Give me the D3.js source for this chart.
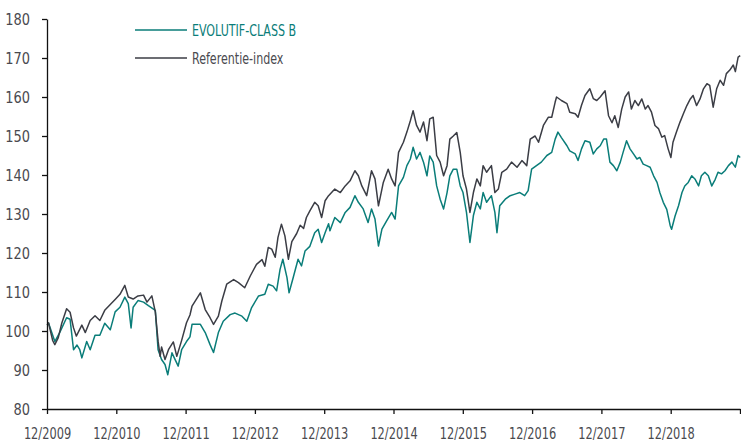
<!DOCTYPE html>
<html>
<head>
<meta charset="utf-8">
<script src="https://cdn.jsdelivr.net/npm/d3@7"></script>
<style>
  body { margin: 0; background: #fff; }
  svg text { font-family: "Liberation Sans Narrow", "DejaVu Sans Condensed", sans-serif; font-stretch: condensed; }
</style>
</head>
<body>
<svg width="741" height="444"></svg>
<script>
// dates as decimal years, values indexed to 100
var fund = [
  [2009.92,101.5],[2009.94,102],[2010.03,97.3],[2010.10,99.6],[2010.20,103.4],[2010.25,103],[2010.30,95.2],
  [2010.35,96.4],[2010.39,95.2],[2010.42,93.1],[2010.49,97.3],[2010.54,95.2],[2010.61,98.9],[2010.68,98.9],
  [2010.75,102],[2010.83,100.3],[2010.90,104.9],[2010.97,106.1],[2011.04,108.7],[2011.09,107],[2011.13,100.8],
  [2011.16,106.1],[2011.23,107.8],[2011.31,107.4],[2011.38,106.5],[2011.48,105.3],[2011.52,95.2],[2011.57,92.7],
  [2011.62,91.4],[2011.66,88.8],[2011.72,94.4],[2011.81,91],[2011.86,95.2],[2011.93,97.3],[2011.98,98.5],
  [2012.01,101.7],[2012.13,101.7],[2012.20,99.6],[2012.27,96.5],[2012.32,94.5],[2012.39,99.6],[2012.46,102.5],
  [2012.56,104.2],[2012.63,104.6],[2012.73,103.8],[2012.80,102.5],[2012.87,106],[2012.97,109],[2013.06,109.4],
  [2013.11,112],[2013.18,111.5],[2013.23,110.3],[2013.28,115.8],[2013.32,118.4],[2013.38,113.7],[2013.41,109.8],
  [2013.47,113.7],[2013.54,118.4],[2013.59,116.7],[2013.64,120.5],[2013.71,121.7],[2013.78,125.2],[2013.83,126.1],
  [2013.88,122.7],[2013.93,125.2],[2013.98,127.5],[2014.00,125.7],[2014.07,129.1],[2014.15,127.8],[2014.22,130.4],
  [2014.29,131.7],[2014.36,134.7],[2014.41,133],[2014.48,131.3],[2014.55,127.8],[2014.60,131.3],[2014.65,128.7],
  [2014.70,121.8],[2014.75,126.1],[2014.82,128.3],[2014.89,130.4],[2014.94,128.7],[2014.99,137.2],[2015.06,139.4],
  [2015.11,142.4],[2015.16,144.1],[2015.20,147.1],[2015.25,144.1],[2015.30,145.8],[2015.35,143.3],[2015.40,139.8],
  [2015.44,144.9],[2015.49,143.3],[2015.54,137.2],[2015.59,133.8],[2015.64,131.3],[2015.69,135.5],[2015.73,139.8],
  [2015.78,141.5],[2015.83,141.5],[2015.88,137.2],[2015.92,135.5],[2015.97,130.4],[2016.02,122.7],[2016.07,129.6],
  [2016.12,133],[2016.17,131.3],[2016.21,135.5],[2016.26,133],[2016.33,134.7],[2016.38,130.4],[2016.41,125.2],
  [2016.45,132.1],[2016.53,133.8],[2016.60,134.7],[2016.67,135.1],[2016.74,135.5],[2016.81,134.7],[2016.86,136],
  [2016.91,141.5],[2016.98,142.4],[2017.05,143.3],[2017.13,145],[2017.20,145.8],[2017.25,149.2],[2017.29,151],
  [2017.34,149.6],[2017.42,147.5],[2017.46,146.2],[2017.54,145.4],[2017.58,143.7],[2017.63,146.7],[2017.68,148.8],
  [2017.75,148.4],[2017.80,145.4],[2017.85,146.7],[2017.90,147.5],[2017.95,149.2],[2017.99,149.2],[2018.04,143.3],
  [2018.09,142.4],[2018.14,141.1],[2018.19,143.3],[2018.23,145.8],[2018.28,148.8],[2018.33,146.7],[2018.38,145.4],
  [2018.43,144.1],[2018.47,144.5],[2018.52,142.8],[2018.57,142.4],[2018.62,142],[2018.67,139.8],[2018.72,138.1],
  [2018.76,135.5],[2018.81,133],[2018.86,131.2],[2018.91,127],[2018.93,126.1],[2018.98,129.5],[2019.03,132.1],
  [2019.08,135.5],[2019.12,137.2],[2019.17,138.1],[2019.22,139.8],[2019.27,138.9],[2019.32,137.2],[2019.36,139.8],
  [2019.41,140.7],[2019.46,139.8],[2019.51,137.2],[2019.56,138.9],[2019.60,140.7],[2019.65,140.3],[2019.70,141.1],
  [2019.75,142.4],[2019.80,143.3],[2019.85,142],[2019.89,145],[2019.92,144.5]
];

var benchmark = [
  [2009.92,101.5],[2009.94,102.1],[2009.96,100.5],[2010.00,97.5],[2010.03,96.5],[2010.08,98.3],[2010.13,102],
  [2010.20,105.7],[2010.25,104.8],[2010.30,100.8],[2010.34,98.7],[2010.42,101.5],[2010.47,99.6],[2010.54,102.7],
  [2010.61,103.9],[2010.68,102.7],[2010.75,105.3],[2010.83,106.8],[2010.90,108.1],[2010.97,109.4],[2011.04,111.7],
  [2011.09,108.7],[2011.16,108.2],[2011.23,109],[2011.31,109.2],[2011.36,107.4],[2011.43,109],[2011.48,104.9],
  [2011.52,97.4],[2011.55,93.5],[2011.57,95.9],[2011.62,92.7],[2011.67,95.2],[2011.74,97.2],[2011.79,93.5],
  [2011.86,97.6],[2011.93,102.1],[2011.98,104.1],[2012.01,106.4],[2012.13,109.8],[2012.20,105.5],[2012.27,103.4],
  [2012.32,101.7],[2012.39,103.8],[2012.44,107.7],[2012.51,112],[2012.61,113.2],[2012.68,112.4],[2012.77,111.1],
  [2012.85,114.1],[2012.94,117.1],[2013.02,118.3],[2013.06,116.6],[2013.11,121.4],[2013.16,121],[2013.21,118.9],
  [2013.25,124],[2013.30,127.4],[2013.35,124.4],[2013.40,118.4],[2013.45,122.9],[2013.52,125],[2013.57,127.1],
  [2013.62,126.3],[2013.66,129.1],[2013.71,130.8],[2013.78,133],[2013.83,132.1],[2013.88,129.1],[2013.93,133.4],
  [2013.98,134.7],[2014.07,136.4],[2014.15,135.5],[2014.22,137.2],[2014.29,138.5],[2014.36,141.1],[2014.41,139.8],
  [2014.46,137.2],[2014.53,134.7],[2014.60,141.1],[2014.65,139],[2014.70,132.1],[2014.77,138.1],[2014.84,141.5],
  [2014.89,139],[2014.94,137.2],[2014.99,145.8],[2015.06,148.4],[2015.11,151],[2015.16,153.9],[2015.20,156.5],
  [2015.25,152.7],[2015.30,151],[2015.35,153.6],[2015.40,148.8],[2015.44,154.4],[2015.49,154.8],[2015.54,145],
  [2015.59,143.3],[2015.64,139.8],[2015.69,142.4],[2015.73,149.2],[2015.78,150],[2015.83,150.9],[2015.88,145.8],
  [2015.92,139.8],[2015.97,136.4],[2016.02,130.4],[2016.07,135.5],[2016.12,139],[2016.17,137.2],[2016.21,142.4],
  [2016.26,140.7],[2016.33,142.4],[2016.38,135.5],[2016.43,136.4],[2016.48,140.7],[2016.55,141.5],[2016.62,143.3],
  [2016.70,142],[2016.77,143.7],[2016.84,142.4],[2016.89,149.2],[2016.96,150],[2017.01,148.4],[2017.08,152.7],
  [2017.15,154.8],[2017.20,154.8],[2017.25,158.7],[2017.27,160],[2017.34,159.1],[2017.42,158.3],[2017.46,156.1],
  [2017.54,155.7],[2017.58,154.8],[2017.63,157.9],[2017.68,160.4],[2017.75,162.1],[2017.80,159.6],[2017.85,159.1],
  [2017.90,160],[2017.97,161.6],[2018.02,155.2],[2018.07,153.4],[2018.11,155.2],[2018.16,152.2],[2018.21,156.9],
  [2018.26,160],[2018.31,161.3],[2018.35,156.9],[2018.40,159.1],[2018.45,157.8],[2018.50,159.5],[2018.55,156.9],
  [2018.59,157.8],[2018.64,156.1],[2018.69,152.7],[2018.74,151.9],[2018.79,149.7],[2018.83,150.1],[2018.88,146.7],
  [2018.92,144.5],[2018.95,148.4],[2019.00,151],[2019.05,153.5],[2019.10,155.7],[2019.15,157.8],[2019.20,159.5],
  [2019.24,160.4],[2019.29,157.8],[2019.34,159.5],[2019.39,162.1],[2019.44,163.4],[2019.48,163],[2019.53,157.4],
  [2019.58,162.1],[2019.63,164.3],[2019.68,163],[2019.72,166],[2019.77,166.9],[2019.82,168.2],[2019.85,166.5],
  [2019.89,170.2],[2019.92,170.6]
];

var yTicks = [80, 90, 100, 110, 120, 130, 140, 150, 160, 170, 180];
var xTicks = [2009.917, 2010.917, 2011.917, 2012.917, 2013.917, 2014.917, 2015.917, 2016.917, 2017.917, 2018.917, 2019.917];
var xTickLabels = ["12/2009", "12/2010", "12/2011", "12/2012", "12/2013", "12/2014", "12/2015", "12/2016", "12/2017", "12/2018", ""];
var seriesNames = ["EVOLUTIF-CLASS B", "Referentie-index"];
var seriesColors = ["#0a7d79", "#3b3d45"];

var svg = d3.select("svg");
var margin = {top: 19, right: 1, bottom: 35, left: 47};
var width = 741 - margin.left - margin.right;
var height = 444 - margin.top - margin.bottom;

var x = d3.scaleLinear().domain([xTicks[0], xTicks[xTicks.length - 1]]).range([0, width]);
var y = d3.scaleLinear().domain([80, 180]).range([height, 0]);

var g = svg.append("g").attr("transform", "translate(" + margin.left + "," + margin.top + ")");

var line = d3.line()
  .x(function(d) { return x(d[0]); })
  .y(function(d) { return y(d[1]); });

[fund, benchmark].forEach(function(s, i) {
  g.append("path")
    .datum(s)
    .attr("fill", "none")
    .attr("stroke", seriesColors[i])
    .attr("stroke-width", 1.5)
    .attr("stroke-linejoin", "round")
    .attr("d", line);
});

var yAxis = g.append("g")
  .call(d3.axisLeft(y).tickValues(yTicks).tickSize(5).tickPadding(12).tickSizeOuter(0));

var xAxis = g.append("g")
  .attr("transform", "translate(0," + height + ")")
  .call(d3.axisBottom(x).tickValues(xTicks).tickSize(5).tickPadding(14).tickSizeOuter(0)
    .tickFormat(function(d, i) { return xTickLabels[i]; }));

[yAxis, xAxis].forEach(function(a) {
  a.select(".domain").attr("stroke", "#111").attr("stroke-width", 1.3);
  a.selectAll(".tick line").attr("stroke", "#111").attr("stroke-width", 1.3);
  a.selectAll(".tick text").attr("fill", "#4a4a4f").style("font-size", "16px");
});

// the original uses a narrow DIN-like face, squeeze the fallback font
function squeeze(sel, k) {
  sel.each(function() {
    var len = this.getComputedTextLength();
    if (len > 0) d3.select(this).attr("textLength", len * k).attr("lengthAdjust", "spacingAndGlyphs");
  });
}
squeeze(yAxis.selectAll(".tick text"), 0.9);
squeeze(xAxis.selectAll(".tick text"), 0.79);

// legend
var legend = svg.append("g").attr("transform", "translate(135,30)");
seriesNames.forEach(function(name, i) {
  var row = legend.append("g").attr("transform", "translate(0," + (i * 28) + ")");
  row.append("line")
    .attr("x1", 0).attr("x2", 52)
    .attr("stroke", seriesColors[i])
    .attr("stroke-width", 1.5);
  var t = row.append("text")
    .attr("x", 57)
    .attr("dy", "0.35em")
    .attr("fill", i == 0 ? "#0a7d79" : "#4a4a4f")
    .style("font-size", "16px")
    .text(name);
  squeeze(t, 0.77);
});
</script>
</body>
</html>
